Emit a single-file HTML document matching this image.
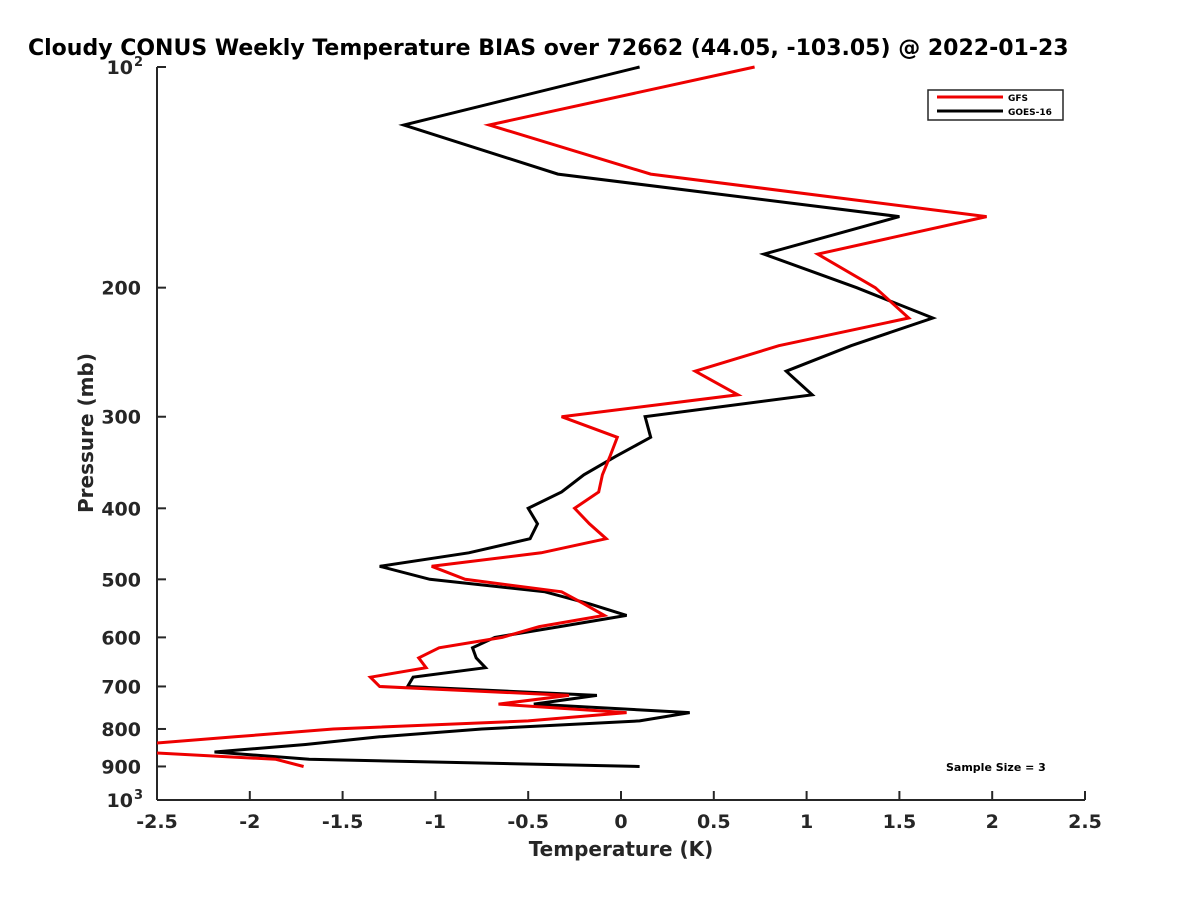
<!DOCTYPE html>
<html><head><meta charset="utf-8"><style>
body{margin:0;background:#fff;}
svg{display:block;font-family:"DejaVu Sans","Liberation Sans",sans-serif;font-weight:bold;}
</style></head><body>
<svg width="1200" height="900" viewBox="0 0 1200 900">
<defs><clipPath id="plotclip"><rect x="157" y="60" width="929" height="741"/></clipPath></defs>
<text x="28" y="55" font-size="22" fill="#000">Cloudy CONUS Weekly Temperature BIAS over 72662 (44.05, -103.05) @ 2022-01-23</text>
<g id="axes"></g>
<g id="series" clip-path="url(#plotclip)"></g>
<g>
<rect x="928" y="90" width="135" height="30" fill="#fff" stroke="#262626" stroke-width="1.5"/>
<line x1="937" y1="97" x2="1003" y2="97" stroke="#e00" stroke-width="3"/>
<text x="1008" y="101" font-size="9">GFS</text>
<line x1="937" y1="111" x2="1003" y2="111" stroke="#000" stroke-width="3"/>
<text x="1008" y="115" font-size="9">GOES-16</text>
</g>
<text x="946" y="771" font-size="11">Sample Size = 3</text>
<text x="621" y="856" font-size="20" text-anchor="middle" fill="#262626">Temperature (K)</text>
<text transform="translate(93,433) rotate(-90)" font-size="20" text-anchor="middle" fill="#262626">Pressure (mb)</text>
</svg>
<script>
const pressureLevels=[100,120,140,160,180,200,220,240,260,280,300,320,340,360,380,400,420,440,460,480,500,520,540,560,580,600,620,640,660,680,700,720,740,760,780,800,820,840,860,880,900];
const gfsBias=[0.72,-0.71,0.16,1.97,1.06,1.37,1.55,0.85,0.40,0.63,-0.32,-0.02,-0.06,-0.10,-0.12,-0.25,-0.17,-0.08,-0.43,-1.02,-0.84,-0.32,-0.20,-0.09,-0.44,-0.64,-0.98,-1.09,-1.05,-1.35,-1.30,-0.28,-0.66,0.03,-0.50,-1.55,-2.08,-2.6,-2.6,-1.86,-1.71];
const goesBias=[0.10,-1.17,-0.34,1.50,0.77,1.27,1.68,1.24,0.89,1.03,0.13,0.16,-0.03,-0.20,-0.32,-0.50,-0.45,-0.49,-0.82,-1.30,-1.03,-0.41,-0.17,0.03,-0.33,-0.68,-0.80,-0.78,-0.73,-1.12,-1.15,-0.13,-0.47,0.37,0.10,-0.75,-1.30,-1.70,-2.19,-1.68,0.10];
const xTicks=[-2.5,-2,-1.5,-1,-0.5,0,0.5,1,1.5,2,2.5];
const xTickLabels=["-2.5","-2","-1.5","-1","-0.5","0","0.5","1","1.5","2","2.5"];
const yTicks=[100,200,300,400,500,600,700,800,900,1000];
const yTickLabels=["10|2","200","300","400","500","600","700","800","900","10|3"];
const NS="http://www.w3.org/2000/svg";
const X0=157,X1=1085,Y0=67,Y1=800;
function xs(t){return X0+(t+2.5)/5*(X1-X0);}
function ys(p){return Y0+Math.log10(p/100)*(Y1-Y0);}
function mk(tag,attrs,parent){const e=document.createElementNS(NS,tag);for(const k in attrs)e.setAttribute(k,attrs[k]);parent.appendChild(e);return e;}
const ax=document.getElementById('axes');
let l=mk('line',{x1:X0,y1:Y0,x2:X0,y2:Y1,stroke:'#262626','stroke-width':2},ax);


l=mk('line',{x1:X0,y1:Y1,x2:X1,y2:Y1,stroke:'#262626','stroke-width':2},ax);


xTicks.forEach((t,i)=>{
 const x=xs(t);
 const tk=mk('line',{x1:x,y1:Y1,x2:x,y2:Y1-9,stroke:'#262626','stroke-width':2},ax);
 
 
 const tx=mk('text',{x:x,y:Y1+28,'font-size':19,'text-anchor':'middle',fill:'#262626'},ax);
 tx.textContent=xTickLabels[i];
 
 
});
yTicks.forEach((p,i)=>{
 const y=ys(p);
 const tk=mk('line',{x1:X0,y1:y,x2:X0+9,y2:y,stroke:'#262626','stroke-width':2},ax);
 
 
 const tx=mk('text',{x:X0-16,y:y+7,'font-size':19,'text-anchor':'end',fill:'#262626'},ax);
 const lab=yTickLabels[i];
 if(lab.indexOf('|')>=0){
  const parts=lab.split('|');
  tx.setAttribute('x',X0-24);
  tx.textContent=parts[0];
  const sup=mk('text',{x:X0-23,y:y-1,'font-size':13,fill:'#262626'},ax);
  sup.textContent=parts[1];
  
  
 } else tx.textContent=lab;
 
 
});
const sg=document.getElementById('series');
function drawLine(vals,color,name){
 const pts=vals.map((v,i)=>xs(v).toFixed(1)+','+ys(pressureLevels[i]).toFixed(1)).join(' ');
 const pl=mk('polyline',{points:pts,fill:'none',stroke:color,'stroke-width':3,'stroke-linejoin':'miter'},sg);
 
 
}
drawLine(goesBias,'#000','goes-16-line');
drawLine(gfsBias,'#e00','gfs-line');
</script>
</body></html>
